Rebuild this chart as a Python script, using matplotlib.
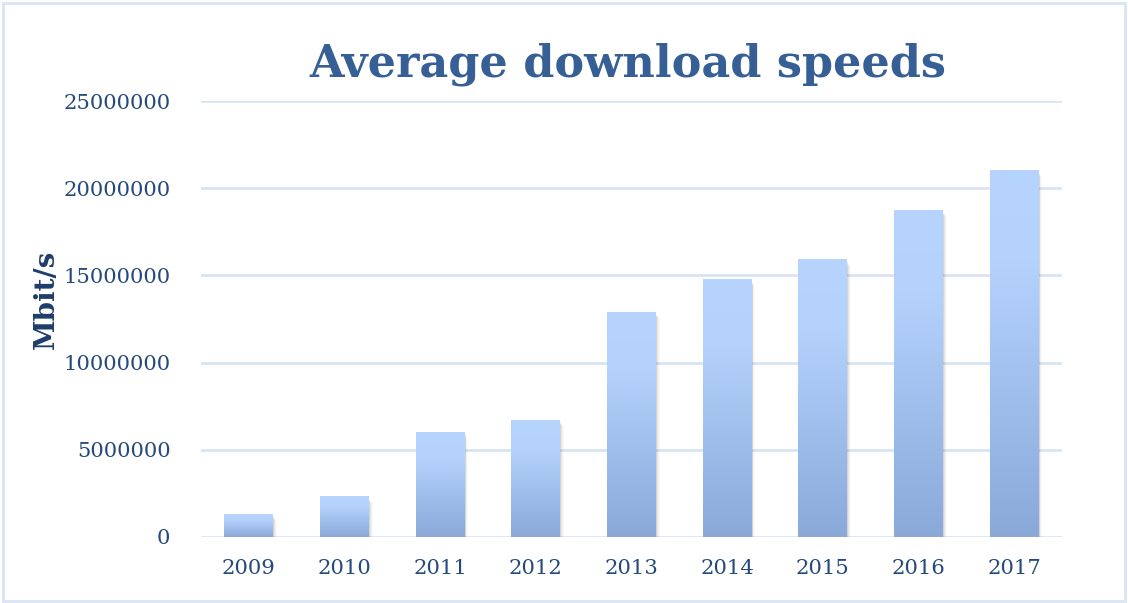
import numpy as np
import matplotlib
matplotlib.use('Agg')
import matplotlib.pyplot as plt
from matplotlib.patches import Rectangle
from matplotlib.colors import LinearSegmentedColormap

years = ['2009', '2010', '2011', '2012', '2013', '2014', '2015', '2016', '2017']
speeds = [1300000, 2300000, 6000000, 6700000, 12900000, 14750000, 15900000, 18750000, 21000000]
yticks = [0, 5000000, 10000000, 15000000, 20000000, 25000000]

title_color = '#365f95'
text_color = '#244a7c'
grid_color = '#d5e2f3'

plt.rcParams['font.family'] = ['DejaVu Serif']

fig = plt.figure(figsize=(11.28, 6.03), dpi=100)
ax = fig.add_axes([0.1782, 0.1095, 0.9415 - 0.1782, 0.8325 - 0.1095])

x = np.arange(len(years))
bars = ax.bar(x, speeds, width=0.51, color='none', zorder=3)

# vertical gradient per bar, light on top, darker at the base
cmap = LinearSegmentedColormap.from_list(
    'bar', [(0.0, '#8aa9d9'), (0.75, '#b5d2fd'), (1.0, '#b7d4ff')])
grad = np.linspace(0, 1, 256).reshape(-1, 1)
for b in bars:
    bx, by, bw, bh = b.get_x(), b.get_y(), b.get_width(), b.get_height()
    # soft shadow
    for k, a in enumerate([0.13, 0.08, 0.05, 0.03]):
        off = 0.01 * (k + 1)
        ax.add_patch(Rectangle((bx + off, by - 60000 * (k + 1)), bw, bh - 100000,
                               facecolor='#606060', alpha=a, lw=0, zorder=2))
    ax.imshow(grad, extent=[bx, bx + bw, by, by + bh], origin='lower',
              cmap=cmap, aspect='auto', zorder=3, interpolation='bilinear')

ax.set_xlim(-0.5, len(years) - 0.5)
ax.set_ylim(0, 25000000)
ax.set_yticks(yticks)
ax.set_yticklabels([str(v) for v in yticks])
ax.set_xticks(x)
ax.set_xticklabels(years)

ax.grid(axis='y', color=grid_color, linewidth=1.8, zorder=0)
ax.set_axisbelow(True)
for s in ax.spines.values():
    s.set_visible(False)
ax.tick_params(length=0, labelsize=15.2, colors=text_color)
ax.tick_params(axis='y', pad=22)
ax.tick_params(axis='x', pad=16)

ax.set_ylabel('Mbit/s', fontsize=20, fontweight='bold', color='#1f3d6b')
ax.yaxis.set_label_coords(-0.164, 0.546)
fig.text(0.557, 0.893, 'Average download speeds', ha='center', va='center',
         fontsize=32, fontweight='bold', color=title_color)

fig.patches.append(Rectangle((0.003, 0.004), 0.994, 0.991, transform=fig.transFigure,
                             fill=False, edgecolor='#d9e5f4', linewidth=2))

fig.savefig('out.png', dpi=100)
